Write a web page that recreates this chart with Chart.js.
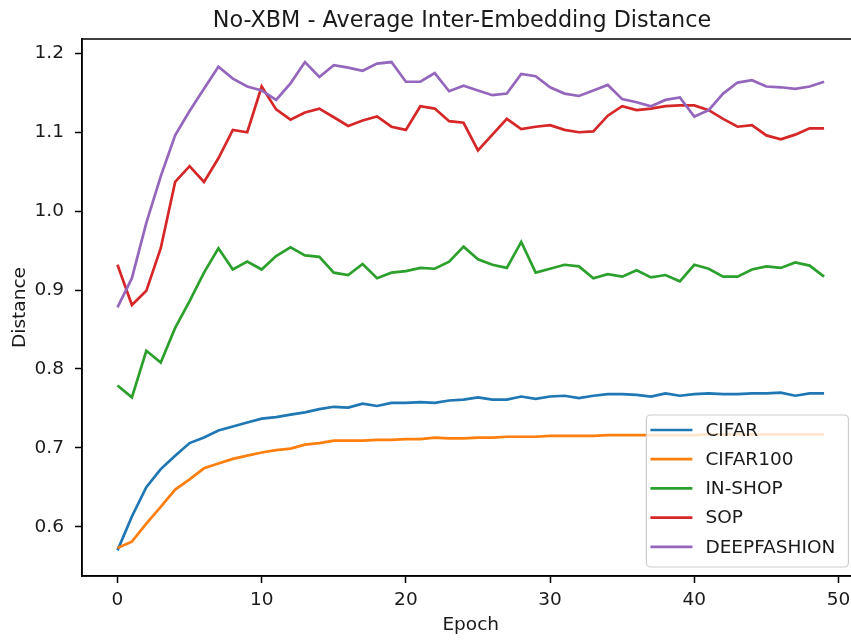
<!DOCTYPE html>
<html>
<head>
<meta charset="utf-8">
<title>No-XBM - Average Inter-Embedding Distance</title>
<script src="https://cdn.jsdelivr.net/npm/chart.js@4.4.1/dist/chart.umd.min.js"></script>
<style>
  html, body { margin: 0; padding: 0; background: #fff; overflow: hidden; }
  #wrap { width: 851px; height: 641px; overflow: hidden; }
  canvas { display: block; }
</style>
</head>
<body>
<div id="wrap"><canvas id="chart" width="880" height="641"></canvas></div>
<script>
// epochs on the x axis
const epochs = [
  0, 1, 2, 3, 4, 5, 6, 7, 8, 9,
  10, 11, 12, 13, 14, 15, 16, 17, 18, 19,
  20, 21, 22, 23, 24, 25, 26, 27, 28, 29,
  30, 31, 32, 33, 34, 35, 36, 37, 38, 39,
  40, 41, 42, 43, 44, 45, 46, 47, 48, 49
];

// average inter-embedding distance per dataset
const cifar = [
  0.570, 0.613, 0.650, 0.673, 0.690, 0.706, 0.713, 0.722, 0.727, 0.732,
  0.737, 0.739, 0.742, 0.745, 0.749, 0.752, 0.751, 0.756, 0.753, 0.757,
  0.757, 0.758, 0.757, 0.760, 0.761, 0.764, 0.761, 0.761, 0.765, 0.762,
  0.765, 0.766, 0.763, 0.766, 0.768, 0.768, 0.767, 0.765, 0.769, 0.766,
  0.768, 0.769, 0.768, 0.768, 0.769, 0.769, 0.770, 0.766, 0.769, 0.769
];
const cifar100 = [
  0.573, 0.581, 0.604, 0.625, 0.647, 0.660, 0.674, 0.680, 0.686, 0.690,
  0.694, 0.697, 0.699, 0.704, 0.706, 0.709, 0.709, 0.709, 0.710, 0.710,
  0.711, 0.711, 0.713, 0.712, 0.712, 0.713, 0.713, 0.714, 0.714, 0.714,
  0.715, 0.715, 0.715, 0.715, 0.716, 0.716, 0.716, 0.716, 0.716, 0.716,
  0.716, 0.717, 0.717, 0.717, 0.717, 0.717, 0.717, 0.717, 0.717, 0.717
];
const inShop = [
  0.779, 0.764, 0.823, 0.808, 0.852, 0.886, 0.922, 0.953, 0.926, 0.936,
  0.926, 0.943, 0.954, 0.944, 0.942, 0.922, 0.919, 0.933, 0.915, 0.922,
  0.924, 0.928, 0.927, 0.936, 0.955, 0.939, 0.932, 0.928, 0.961, 0.922,
  0.927, 0.932, 0.930, 0.915, 0.920, 0.917, 0.925, 0.916, 0.919, 0.911,
  0.932, 0.927, 0.917, 0.917, 0.926, 0.930, 0.928, 0.935, 0.931, 0.917
];
const sop = [
  0.932, 0.881, 0.899, 0.953, 1.037, 1.057, 1.037, 1.067, 1.103, 1.100,
  1.158, 1.129, 1.116, 1.125, 1.130, 1.119, 1.108, 1.115, 1.120, 1.107,
  1.103, 1.133, 1.130, 1.114, 1.112, 1.077, 1.097, 1.117, 1.104, 1.107,
  1.109, 1.103, 1.100, 1.101, 1.121, 1.133, 1.128, 1.130, 1.133, 1.134,
  1.134, 1.128, 1.117, 1.107, 1.109, 1.096, 1.091, 1.097, 1.105, 1.105
];
const deepFashion = [
  0.878, 0.915, 0.985, 1.044, 1.096, 1.127, 1.155, 1.183, 1.168, 1.158,
  1.153, 1.141, 1.162, 1.189, 1.170, 1.185, 1.182, 1.178, 1.187, 1.189,
  1.164, 1.164, 1.175, 1.152, 1.159, 1.153, 1.147, 1.149, 1.174, 1.171,
  1.157, 1.149, 1.146, 1.153, 1.160, 1.142, 1.138, 1.133, 1.141, 1.144,
  1.120, 1.128, 1.149, 1.163, 1.166, 1.158, 1.157, 1.155, 1.158, 1.164
];

const seriesNames = ['CIFAR', 'CIFAR100', 'IN-SHOP', 'SOP', 'DEEPFASHION'];
const seriesValues = [cifar, cifar100, inShop, sop, deepFashion];
const seriesColors = ['#1f77b4', '#ff7f0e', '#2ca02c', '#d62728', '#9467bd'];

const xTicks = [0, 10, 20, 30, 40, 50];
const yTicks = [0.6, 0.7, 0.8, 0.9, 1.0, 1.1, 1.2];

const chartTitle = 'No-XBM - Average Inter-Embedding Distance';

const FONT = 'DejaVu Sans';
const INK = '#1a1a1a';

// title line above the plot
const titlePlugin = {
  id: 'plotTitle',
  afterDraw(chart) {
    const {ctx} = chart;
    ctx.save();
    ctx.font = `22.3px "${FONT}"`;
    ctx.fillStyle = INK;
    ctx.textAlign = 'center';
    ctx.textBaseline = 'alphabetic';
    ctx.fillText(chartTitle, 462, 26.7);
    ctx.restore();
  }
};

// top and right spines (Chart.js only draws the axis borders)
const framePlugin = {
  id: 'frame',
  afterDatasetsDraw(chart) {
    const {ctx, chartArea: a} = chart;
    ctx.save();
    ctx.strokeStyle = '#000';
    ctx.lineWidth = 1.5;
    ctx.strokeRect(a.left, a.top, a.right - a.left, a.bottom - a.top);
    ctx.restore();
  }
};

// boxed legend in the lower right corner of the plot
const boxLegend = {
  id: 'boxLegend',
  afterDraw(chart) {
    const {ctx, chartArea: a} = chart;
    const sets = chart.data.datasets;
    const w = 202, rowH = 29.2, h = 152;
    const x = a.right - 11 - w, y = a.bottom - 9 - h;
    ctx.save();
    ctx.beginPath();
    ctx.roundRect(x, y, w, h, 4);
    ctx.fillStyle = 'rgba(255,255,255,0.8)';
    ctx.fill();
    ctx.strokeStyle = '#cccccc';
    ctx.lineWidth = 1.2;
    ctx.stroke();
    ctx.font = `18.5px "${FONT}"`;
    ctx.textBaseline = 'middle';
    ctx.textAlign = 'left';
    sets.forEach((ds, i) => {
      const cy = y + 15 + i * rowH;
      ctx.beginPath();
      ctx.moveTo(x + 4, cy);
      ctx.lineTo(x + 46, cy);
      ctx.strokeStyle = ds.borderColor;
      ctx.lineWidth = 2.7;
      ctx.stroke();
      ctx.fillStyle = INK;
      ctx.fillText(ds.label, x + 59, cy + 1);
    });
    ctx.restore();
  }
};

new Chart(document.getElementById('chart'), {
  type: 'line',
  data: {
    datasets: seriesNames.map((name, i) => ({
      label: name,
      data: epochs.map((e, k) => ({x: e, y: seriesValues[i][k]})),
      borderColor: seriesColors[i],
      backgroundColor: seriesColors[i],
      borderWidth: 2.7,
      pointRadius: 0,
      tension: 0,
      fill: false,
      order: seriesNames.length - i
    }))
  },
  options: {
    responsive: false,
    animation: false,
    devicePixelRatio: 1,
    layout: {padding: {left: 0, right: 20.6, top: 39, bottom: 0}},
    plugins: {
      legend: {display: false},
      tooltip: {enabled: false},
      title: {display: false}
    },
    scales: {
      x: {
        type: 'linear',
        min: -2.46,
        max: 51.45,
        afterBuildTicks: s => { s.ticks = xTicks.map(v => ({value: v})); },
        afterFit: s => { s.height = 65; },
        border: {color: '#000', width: 1.5},
        grid: {drawOnChartArea: false, drawTicks: true, tickLength: 7, tickColor: '#000', tickWidth: 1.5},
        ticks: {color: INK, font: {family: FONT, size: 18.5}, padding: 6, maxRotation: 0, autoSkip: false},
        title: {display: true, text: 'Epoch', color: INK, font: {family: FONT, size: 18.5, lineHeight: 1.2}, padding: {top: 0, bottom: 5}}
      },
      y: {
        type: 'linear',
        min: 0.5375,
        max: 1.2182,
        afterBuildTicks: s => { s.ticks = yTicks.map(v => ({value: v})); },
        afterFit: s => { s.width = 82; },
        border: {color: '#000', width: 1.5},
        grid: {drawOnChartArea: false, drawTicks: true, tickLength: 7, tickColor: '#000', tickWidth: 1.5},
        ticks: {color: INK, font: {family: FONT, size: 18.5}, padding: 11, autoSkip: false,
                callback: v => v.toFixed(1)},
        title: {display: true, text: 'Distance', color: INK, font: {family: FONT, size: 18.5, lineHeight: 1.2}, padding: {top: 8.6, bottom: 0}}
      }
    }
  },
  plugins: [framePlugin, titlePlugin, boxLegend]
});
</script>
</body>
</html>
